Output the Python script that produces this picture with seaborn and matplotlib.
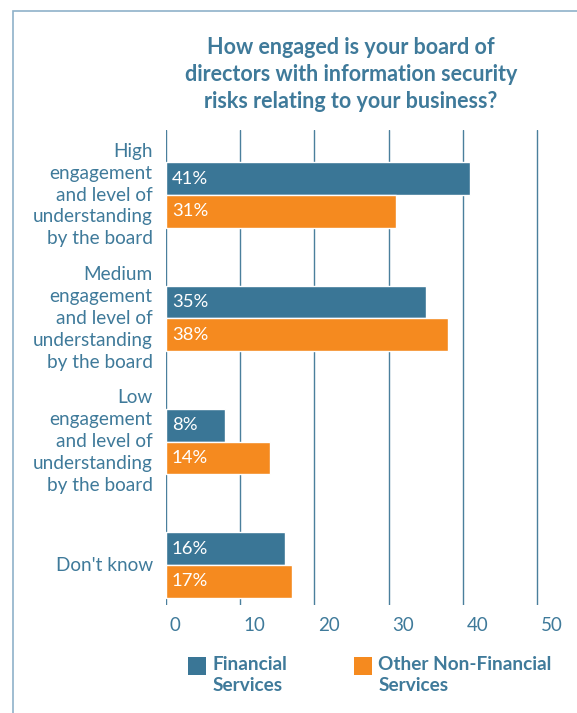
import matplotlib
matplotlib.use("Agg")
import matplotlib.pyplot as plt
import matplotlib.transforms as mtransforms
from matplotlib.patches import Rectangle
import seaborn as sns
import pandas as pd

# ---- data -------------------------------------------------------------
categories = [
    "High\nengagement\nand level of\nunderstanding\nby the board",
    "Medium\nengagement\nand level of\nunderstanding\nby the board",
    "Low\nengagement\nand level of\nunderstanding\nby the board",
    "Don't know",
]
series_names = ["Financial Services", "Other Non-Financial Services"]
financial = [41, 35, 8, 16]
other_non_financial = [31, 38, 14, 17]
x_ticks = [0, 10, 20, 30, 40, 50]
title = "How engaged is your board of\ndirectors with information security\nrisks relating to your business?"

# ---- style ------------------------------------------------------------
sns.set_style("white")
plt.rcParams["font.family"] = ["Lato", "DejaVu Sans"]

BLUE = "#3a7696"
ORANGE = "#f58a1f"
TEAL_TEXT = "#3f7a9a"
GRID = "#4a7f9c"
FRAME = "#8fb1c9"

df = pd.DataFrame({
    "category": categories * 2,
    "value": financial + other_non_financial,
    "group": [series_names[0]] * len(categories) + [series_names[1]] * len(categories),
})

W, H = 577, 713
fig = plt.figure(figsize=(W / 100, H / 100), dpi=100)
fig.patch.set_facecolor("white")

# outer frame (open to the right and bottom edges)
fig.patches.append(Rectangle((13 / W, -0.1), 1.2, 1 - 11 / H + 0.1,
                             transform=fig.transFigure, fill=False,
                             edgecolor=FRAME, linewidth=1.2, zorder=0))

ax = fig.add_axes([166 / W, 1 - 605 / H, 375.5 / W, 475 / H])

sns.barplot(data=df, y="category", x="value", hue="group", orient="h",
            hue_order=series_names, palette=[BLUE, ORANGE], saturation=1,
            width=0.53, legend=False, ax=ax, zorder=3)

ax.set_xlim(0, 50.6)
ax.set_ylim(3.324, -0.527)
ax.set_xlabel("")
ax.set_ylabel("")
for s in ax.spines.values():
    s.set_visible(False)

# vertical gridlines, running down through the tick marks
ax.set_axisbelow(True)
ax.set_xticks(x_ticks)
ax.set_xticklabels([str(t) for t in x_ticks])
ax.grid(axis="x", color=GRID, linewidth=1.0)
ax.grid(axis="y", visible=False)
ax.tick_params(axis="x", length=19.4, width=1.0, color=GRID, direction="out",
               pad=-0.7, labelsize=13.5, labelcolor=TEAL_TEXT)
offset = mtransforms.ScaledTranslation(3.5 / 100, 0, fig.dpi_scale_trans)
for lab in ax.get_xticklabels():
    lab.set_ha("left")
    lab.set_va("baseline")
    lab.set_transform(lab.get_transform() + offset)

# category labels
ax.tick_params(axis="y", length=0, pad=9.6, labelsize=13.7, labelcolor=TEAL_TEXT)
for lab in ax.get_yticklabels():
    lab.set_ha("right")
    lab.set_va("center")
    lab.set_linespacing(1.35)

# value labels inside the bars
lab_off = mtransforms.ScaledTranslation(6 / 100, 0, fig.dpi_scale_trans)
for container, values in zip(ax.containers, [financial, other_non_financial]):
    for bar, v in zip(container, values):
        yc = bar.get_y() + bar.get_height() / 2
        ax.text(0, yc, f"{v}%", color="white", fontsize=13.3,
                ha="left", va="center",
                transform=ax.transData + lab_off, zorder=5)

# title
fig.text(351 / W, 1 - 36.5 / H, title, ha="center", va="top",
         fontsize=15.5, fontweight="bold", color=TEAL_TEXT, linespacing=1.36)

# legend
legend_items = [(188.3, BLUE, "Financial\nServices"),
                (354, ORANGE, "Other Non-Financial\nServices")]
for x0, col, txt in legend_items:
    fig.patches.append(Rectangle((x0 / W, 1 - 674.5 / H), 17.6 / W, 17.8 / H,
                                 transform=fig.transFigure, facecolor=col,
                                 edgecolor="none"))
    fig.text((x0 + 24.5) / W, 1 - 656.5 / H, txt, ha="left", va="top",
             fontsize=13.7, fontweight="bold", color=TEAL_TEXT,
             linespacing=1.27)

fig.savefig("out.png", dpi=100)
